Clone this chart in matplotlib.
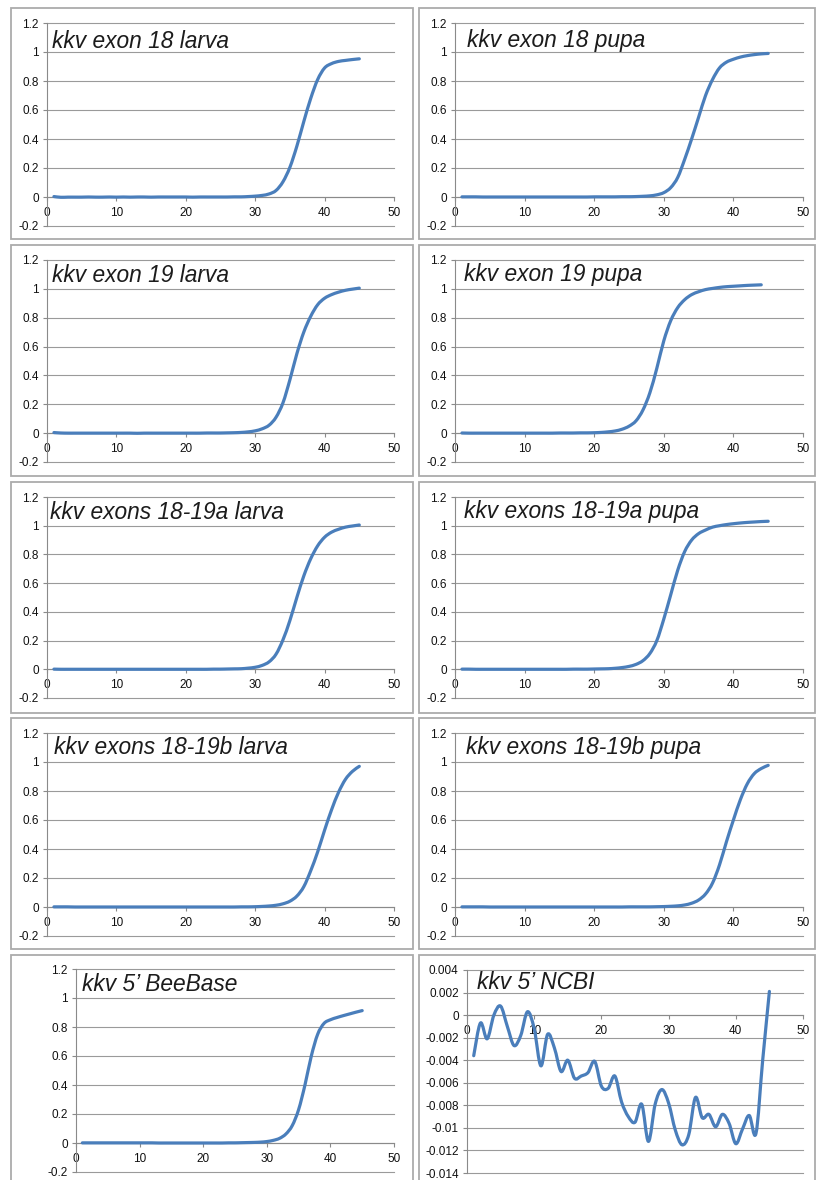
import matplotlib
matplotlib.use("Agg")
import matplotlib.pyplot as plt
from matplotlib.path import Path
from matplotlib.patches import PathPatch, Rectangle
from matplotlib.ticker import FuncFormatter
import numpy as np

plt.rcParams['font.family'] = ['Liberation Sans', 'DejaVu Sans']

W, H = 816, 1180

cycles = list(range(1, 46))

# normalised fluorescence per cycle
exon18_larva = [0.003, -0.002, -0.001, -0.001, -0.001, 0.000, -0.001, -0.001, 0.000, -0.001,
                0.000, -0.001, 0.000, 0.000, -0.001, 0.000, 0.000, 0.000, 0.000, 0.000,
                -0.001, 0.000, 0.000, 0.000, 0.000, 0.000, 0.001, 0.001, 0.003, 0.006,
                0.011, 0.021, 0.045, 0.105, 0.205, 0.350, 0.520, 0.680, 0.810, 0.890,
                0.920, 0.935, 0.942, 0.948, 0.953]
exon18_pupa = [0.001, 0.001, 0.001, 0.000, 0.000, 0.000, 0.000, 0.000, 0.000, 0.000,
               0.000, 0.000, 0.000, 0.000, 0.000, 0.000, 0.000, 0.000, 0.000, 0.001,
               0.001, 0.001, 0.001, 0.002, 0.002, 0.003, 0.005, 0.008, 0.015, 0.030,
               0.065, 0.135, 0.260, 0.400, 0.550, 0.700, 0.810, 0.890, 0.930, 0.950,
               0.965, 0.975, 0.982, 0.987, 0.990]
exon19_larva = [0.004, 0.001, 0.000, 0.000, 0.000, 0.000, 0.000, 0.000, 0.000, 0.000,
                0.000, 0.000, -0.001, 0.000, 0.000, 0.000, 0.000, 0.000, 0.000, 0.000,
                0.000, 0.000, 0.001, 0.001, 0.001, 0.002, 0.003, 0.005, 0.009, 0.016,
                0.030, 0.055, 0.110, 0.210, 0.370, 0.550, 0.700, 0.810, 0.890, 0.935,
                0.960, 0.977, 0.990, 0.998, 1.005]
exon19_pupa = [0.001, 0.000, 0.000, 0.000, 0.000, 0.000, 0.000, 0.000, 0.000, 0.000,
               0.000, 0.000, 0.000, 0.000, 0.001, 0.001, 0.001, 0.002, 0.002, 0.003,
               0.005, 0.009, 0.015, 0.027, 0.048, 0.085, 0.160, 0.280, 0.450, 0.640,
               0.780, 0.870, 0.925, 0.960, 0.980, 0.995, 1.003, 1.010, 1.015, 1.018,
               1.021, 1.024, 1.026, 1.028]
exons18_19a_larva = [0.001, 0.000, 0.000, 0.000, 0.000, 0.000, 0.000, 0.000, 0.000, 0.000,
                     0.000, 0.000, 0.000, 0.000, 0.000, 0.000, 0.000, 0.000, 0.000, 0.000,
                     0.000, 0.000, 0.000, 0.001, 0.001, 0.002, 0.003, 0.004, 0.008, 0.014,
                     0.027, 0.052, 0.105, 0.205, 0.340, 0.500, 0.650, 0.770, 0.860, 0.920,
                     0.955, 0.975, 0.990, 0.998, 1.005]
exons18_19a_pupa = [0.001, 0.001, 0.000, 0.000, 0.000, 0.000, 0.000, 0.000, 0.000, 0.000,
                    0.000, 0.000, 0.000, 0.000, 0.000, 0.000, 0.001, 0.001, 0.001, 0.002,
                    0.003, 0.004, 0.007, 0.012, 0.020, 0.034, 0.060, 0.110, 0.200, 0.350,
                    0.520, 0.690, 0.820, 0.900, 0.945, 0.970, 0.990, 1.000, 1.008, 1.014,
                    1.019, 1.023, 1.026, 1.029, 1.031]
exons18_19b_larva = [0.001, 0.001, 0.001, 0.000, 0.000, 0.000, 0.000, 0.000, 0.000, 0.000,
                     0.000, 0.000, 0.000, 0.000, 0.000, 0.000, 0.000, 0.000, 0.000, 0.000,
                     0.000, 0.000, 0.000, 0.000, 0.000, 0.000, 0.000, 0.001, 0.001, 0.002,
                     0.004, 0.007, 0.012, 0.022, 0.040, 0.075, 0.140, 0.250, 0.380, 0.530,
                     0.670, 0.790, 0.880, 0.935, 0.970]
exons18_19b_pupa = [0.001, 0.001, 0.001, 0.001, 0.000, 0.000, 0.000, 0.000, 0.000, 0.000,
                    0.000, 0.000, 0.000, 0.000, 0.000, 0.000, 0.000, 0.000, 0.000, 0.000,
                    0.000, 0.000, 0.000, 0.000, 0.001, 0.001, 0.001, 0.001, 0.002, 0.003,
                    0.005, 0.008, 0.014, 0.026, 0.048, 0.090, 0.165, 0.290, 0.450, 0.600,
                    0.740, 0.850, 0.920, 0.955, 0.977]
beebase_5p = [0.001, 0.001, 0.001, 0.001, 0.001, 0.001, 0.001, 0.001, 0.001, 0.001,
              0.001, 0.001, 0.000, 0.000, 0.000, 0.000, 0.000, 0.000, 0.000, 0.000,
              0.000, 0.000, 0.000, 0.001, 0.001, 0.002, 0.003, 0.004, 0.006, 0.010,
              0.018, 0.032, 0.062, 0.120, 0.230, 0.400, 0.600, 0.750, 0.825, 0.850,
              0.865, 0.878, 0.890, 0.902, 0.913]
ncbi_5p = [-0.0036, -0.0007, -0.0021, 0.0000, 0.0008, -0.0010, -0.0027, -0.0018, 0.0003, -0.0012,
           -0.0045, -0.0017, -0.0029, -0.0050, -0.0040, -0.0056, -0.0054, -0.0051, -0.0041, -0.0063,
           -0.0065, -0.0054, -0.0077, -0.0090, -0.0095, -0.0079, -0.0112, -0.0079, -0.0066, -0.0078,
           -0.0102, -0.0115, -0.0106, -0.0073, -0.0091, -0.0088, -0.0099, -0.0088, -0.0096, -0.0114,
           -0.0101, -0.0089, -0.0105, -0.0040, 0.0021]

titles = ["kkv exon 18 larva", "kkv exon 18 pupa",
          "kkv exon 19 larva", "kkv exon 19 pupa",
          "kkv exons 18-19a larva", "kkv exons 18-19a pupa",
          "kkv exons 18-19b larva", "kkv exons 18-19b pupa",
          "kkv 5\u2019 BeeBase", "kkv 5\u2019 NCBI"]
series = [exon18_larva, exon18_pupa, exon19_larva, exon19_pupa,
          exons18_19a_larva, exons18_19a_pupa, exons18_19b_larva, exons18_19b_pupa,
          beebase_5p, ncbi_5p]

rfu_ticks = [-0.2, 0.0, 0.2, 0.4, 0.6, 0.8, 1.0, 1.2]
ncbi_ticks = [-0.014, -0.012, -0.01, -0.008, -0.006, -0.004, -0.002, 0.0, 0.002, 0.004]

# pixel boxes: (left, right, top, bottom) of the plot area
plot_px = [(47, 394, 23, 226), (455, 803, 23, 226),
           (47, 394, 260, 462), (455, 803, 260, 462),
           (47, 394, 497, 698), (455, 803, 497, 698),
           (47, 394, 733, 936), (455, 803, 733, 936),
           (76, 394, 969, 1172), (467, 803, 970, 1173)]
title_px = [(52, 48), (467, 47), (52, 282), (464, 281), (50, 519),
            (464, 518), (54, 754), (466, 754), (82, 991), (477, 989)]
frame_tops = [8, 245, 482, 718, 955]

LINE = '#4A7EBB'
GRID = '#9a9a9a'
AXIS = '#8a8a8a'


def smooth_path(xs, ys):
    # Bezier curve through every point, like a spreadsheet "smoothed line"
    pts = np.column_stack([xs, ys]).astype(float)
    n = len(pts)
    verts = [pts[0]]
    codes = [Path.MOVETO]
    for i in range(n - 1):
        p0 = pts[max(i - 1, 0)]
        p1 = pts[i]
        p2 = pts[i + 1]
        p3 = pts[min(i + 2, n - 1)]
        verts += [p1 + (p2 - p0) / 6.0, p2 - (p3 - p1) / 6.0, p2]
        codes += [Path.CURVE4] * 3
    return Path(verts, codes)


def fmt(v, pos):
    s = ('%.3f' % (round(v, 4) + 0.0)).rstrip('0').rstrip('.')
    return '0' if s in ('-0', '') else s


fig = plt.figure(figsize=(W / 100, H / 100), dpi=100)
fig.patch.set_facecolor('white')

# grey frames round every chart
for top in frame_tops:
    for left, right in [(11, 413), (419, 815)]:
        h = 231 if top < 900 else 260
        fig.add_artist(Rectangle((left / W, 1 - (top + h) / H), (right - left) / W, h / H,
                                 transform=fig.transFigure, fill=False,
                                 ec='#ababab', lw=1.3))

for k in range(10):
    l, r, t, b = plot_px[k]
    ax = fig.add_axes([l / W, 1 - b / H, (r - l) / W, (b - t) / H])
    ticks = ncbi_ticks if k == 9 else rfu_ticks
    y = series[k]
    x = cycles[:len(y)]

    ax.set_xlim(0, 50)
    ax.set_ylim(ticks[0], ticks[-1])
    ax.set_yticks(ticks)
    ax.set_xticks(range(0, 51, 10))
    ax.yaxis.set_major_formatter(FuncFormatter(fmt))
    ax.yaxis.grid(True, color=GRID, lw=0.8)
    for gl in ax.get_ygridlines():
        gl.set_clip_on(False)
    ax.set_axisbelow(True)
    for s in ['top', 'right']:
        ax.spines[s].set_visible(False)
    ax.spines['left'].set_color(AXIS)
    ax.spines['bottom'].set_position(('data', 0))
    ax.spines['bottom'].set_color(AXIS)
    ax.tick_params(axis='both', colors=AXIS, labelcolor='#111111', labelsize=8.5,
                   length=3, width=0.8, direction='out')
    ax.tick_params(axis='y', pad=3)
    ax.tick_params(axis='x', pad=4)
    ax.patch.set_alpha(0)

    ax.add_patch(PathPatch(smooth_path(x, y), facecolor='none', edgecolor=LINE,
                           lw=2.3, capstyle='round', joinstyle='round', zorder=3))

    tx, ty = title_px[k]
    fig.text(tx / W, 1 - ty / H, titles[k], fontsize=16.4, style='italic',
             va='baseline', ha='left', color='#1c1c1c')

plt.savefig("out.png", dpi=100)
